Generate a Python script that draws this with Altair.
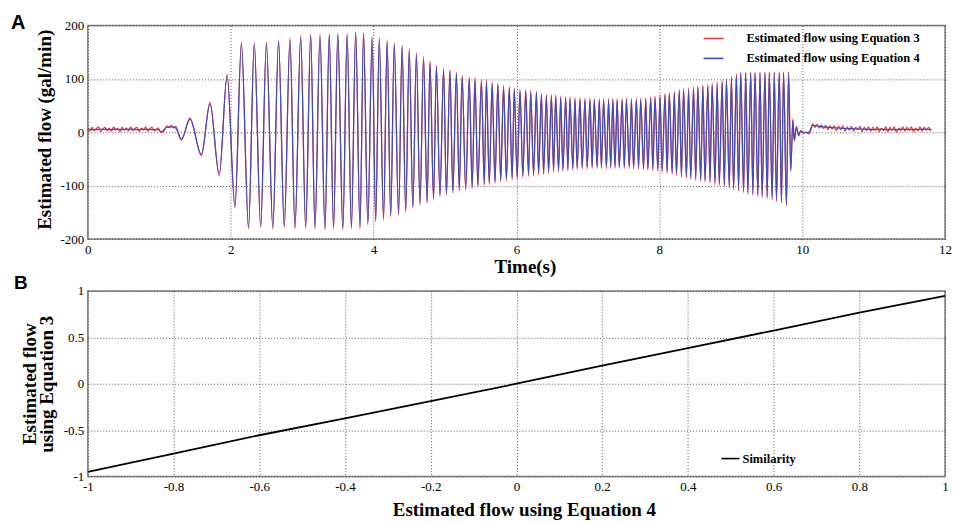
import altair as alt
import pandas as pd

SER3 = "Estimated flow using Equation 3"
SER4 = "Estimated flow using Equation 4"
RED = "#f23a3a"
BLUE = "#3b4cbf"
SERIF = "Liberation Serif"

# ---------------- Panel A: estimated flow vs time ----------------
# Equation 4 (blue) - quiet start
t4_pre = [0.00, 0.10, 0.20, 0.30, 0.40, 0.50, 0.60, 0.70, 0.80, 0.90, 0.98, 1.03, 1.10, 1.18, 1.23]
v4_pre = [6, 5, 6, 5, 6, 5, 6, 5, 6, 5, 5, 1, 9, 10, 8]

# Oscillation extrema (times shared by both equations)
t_osc = [1.31, 1.43, 1.59, 1.71, 1.84, 1.95, 2.06, 2.15, 2.25, 2.33, 2.42, 2.50, 2.59, 2.67, 2.75, 2.83,
         2.90, 2.98, 3.05, 3.12, 3.18, 3.25, 3.32, 3.38, 3.44, 3.50, 3.57, 3.63, 3.69, 3.75, 3.81, 3.86,
         3.92, 3.98, 4.03, 4.08, 4.14, 4.19, 4.24, 4.29, 4.35, 4.40, 4.45, 4.50, 4.55, 4.60, 4.65, 4.70,
         4.75, 4.79, 4.84, 4.88, 4.93, 4.98, 5.02, 5.07, 5.11, 5.16, 5.20, 5.24, 5.29, 5.34, 5.38, 5.42,
         5.46, 5.51, 5.55, 5.58, 5.62, 5.66, 5.70, 5.74, 5.78, 5.82, 5.86, 5.90, 5.94, 5.97, 6.01, 6.05,
         6.09, 6.13, 6.17, 6.20, 6.24, 6.28, 6.31, 6.35, 6.38, 6.42, 6.45, 6.49, 6.52, 6.55, 6.59, 6.62,
         6.65, 6.69, 6.72, 6.75, 6.79, 6.82, 6.85, 6.89, 6.92, 6.96, 6.99, 7.03, 7.06, 7.09, 7.13, 7.16,
         7.19, 7.22, 7.26, 7.29, 7.32, 7.35, 7.38,
         7.41, 7.44, 7.48, 7.51, 7.54, 7.58, 7.61, 7.64, 7.68, 7.71, 7.74, 7.78, 7.81, 7.84, 7.88, 7.91,
         7.94, 7.98, 8.01, 8.04, 8.08, 8.11, 8.14, 8.18, 8.21, 8.24, 8.28, 8.31, 8.34, 8.38, 8.41, 8.44,
         8.48, 8.51, 8.54, 8.58, 8.61, 8.64, 8.68, 8.71, 8.74, 8.78, 8.81, 8.84, 8.88, 8.91, 8.94, 8.98,
         9.01, 9.04, 9.08, 9.11, 9.14, 9.18, 9.21, 9.24, 9.28, 9.31, 9.34, 9.38, 9.41, 9.44, 9.48, 9.51,
         9.54, 9.58, 9.61, 9.64, 9.68, 9.71, 9.74, 9.78, 9.81]

v4_osc = [-13, 24, -41, 53, -78, 105, -138, 165, -178, 165, -175, 165, -178, 170, -176, 173,
          -178, 178, -177, 181, -178, 180, -180, 182, -178, 183, -180, 182, -178, 186, -178, 185,
          -170, 176, -165, 174, -161, 170, -156, 164, -152, 160, -146, 153, -139, 145, -133, 138,
          -129, 130, -123, 122, -117, 116, -114, 114, -110, 109, -106, 103, -105, 100, -102, 98,
          -99, 95, -96, 94, -94, 90, -92, 88, -89, 84, -87, 82, -85, 79, -83, 77,
          -81, 76, -79, 75, -78, 73, -76, 69, -75, 67, -73, 67, -71, 66, -70, 64,
          -69, 63, -68, 62, -67, 61, -66, 61, -65, 60, -65, 60, -64, 59, -64, 59,
          -64, 59, -64, 59, -64, 59, -64,
          59, -64, 59, -64, 60, -64, 59, -65, 60, -65, 60, -66, 61, -67, 63, -68,
          64, -69, 66, -71, 69, -73, 71, -75, 73, -77, 76, -80, 78, -82, 79, -84,
          81, -86, 83, -88, 85, -89, 86, -91, 88, -94, 90, -96, 93, -98, 96, -101,
          101, -104, 106, -106, 111, -109, 111, -112, 111, -114, 111, -116, 111, -118, 111, -120,
          111, -122, 111, -126, 111, -129, 111, -135, 111]

v3_osc = [-15, 27, -44, 56, -82, 109, -142, 168, -181, 168, -179, 169, -181, 173, -179, 176,
          -181, 181, -180, 184, -181, 183, -183, 185, -181, 186, -183, 185, -181, 188, -181, 187,
          -174, 179, -168, 177, -165, 173, -159, 168, -156, 163, -150, 157, -143, 149, -137, 142,
          -133, 134, -127, 126, -121, 120, -118, 118, -114, 113, -110, 107, -109, 104, -106, 102,
          -103, 99, -100, 98, -98, 94, -96, 92, -93, 88, -91, 86, -89, 83, -87, 81,
          -85, 80, -83, 79, -82, 77, -80, 73, -79, 71, -77, 71, -75, 70, -74, 68,
          -73, 67, -72, 66, -71, 65, -70, 65, -69, 64, -69, 64, -68, 63, -68, 63,
          -68, 63, -68, 63, -68, 63, -68,
          63, -68, 63, -68, 64, -68, 63, -69, 64, -69, 64, -70, 65, -71, 67, -72,
          68, -73, 70, -75, 73, -77, 75, -79, 77, -81, 80, -84, 82, -86, 83, -88,
          85, -90, 87, -92, 89, -93, 90, -95, 92, -98, 94, -100, 97, -102, 100, -105,
          105, -108, 110, -110, 113, -113, 113, -116, 113, -118, 113, -120, 113, -122, 113, -124,
          113, -126, 113, -130, 113, -133, 113, -138, 113]

# Equation 4 (blue) - decay and quiet end
t4_post = [9.84, 9.87, 9.89, 9.92, 9.95, 9.98, 10.02, 10.08, 10.11, 10.14, 10.20, 10.30, 10.40,
           10.50, 10.60, 10.70, 10.80, 10.90, 11.00, 11.10, 11.20, 11.30, 11.40, 11.50, 11.60,
           11.70, 11.81]
v4_post = [-70, 22, -14, 9, -5, 2, 0, -1, 3, 13, 12, 10, 9, 8, 7, 7, 6, 6, 5, 6, 5, 5, 6, 5, 5, 6, 5]

# Equation 3 (red) - noisy quiet start
t3_pre = [0.00, 0.03, 0.06, 0.09, 0.12, 0.15, 0.18, 0.21, 0.24, 0.27, 0.30, 0.33, 0.36, 0.39, 0.42,
          0.45, 0.48, 0.51, 0.54, 0.57, 0.60, 0.63, 0.66, 0.69, 0.72, 0.75, 0.78, 0.81, 0.84, 0.87,
          0.90, 0.93, 0.96, 0.99, 1.02, 1.05, 1.08, 1.11, 1.14, 1.17, 1.20, 1.23, 1.26]
v3_pre = [8, 2, 9, 3, 7, 10, 1, 6, 9, 3, 8, 2, 10, 4, 7, 1, 9, 5, 8, 2, 10, 3, 7, 9, 1,
          8, 4, 10, 2, 7, 9, 3, 6, 8, 0, 0, 6, 12, 9, 13, 8, 11, 2]

# Equation 3 (red) - decay and noisy quiet end
t3_post = [9.84, 9.87, 9.89, 9.92, 9.95, 9.98, 10.02, 10.06, 10.09, 10.12, 10.15, 10.18, 10.21,
           10.24, 10.27, 10.30, 10.33, 10.36, 10.39, 10.42, 10.45, 10.48, 10.51, 10.54, 10.57,
           10.60, 10.63, 10.66, 10.69, 10.72, 10.75, 10.78, 10.81, 10.84, 10.87, 10.90, 10.93,
           10.96, 10.99, 11.02, 11.05, 11.08, 11.11, 11.14, 11.17, 11.20, 11.23, 11.26, 11.29,
           11.32, 11.35, 11.38, 11.41, 11.44, 11.47, 11.50, 11.53, 11.56, 11.59, 11.62, 11.65,
           11.68, 11.71, 11.74, 11.77, 11.80]
v3_post = [-74, 25, -17, 11, -7, 3, -2, 1, -3, 3, 16, 9, 15, 8, 14, 7, 13, 5, 12, 6, 12, 3, 11,
           5, 12, 2, 10, 4, 11, 2, 9, 5, 11, 1, 9, 3, 10, 2, 9, 4, 10, 1, 8, 3, 10, 1, 9, 4,
           10, 0, 8, 3, 10, 2, 9, 4, 10, 1, 8, 3, 10, 2, 9, 4, 9, 3]

# ---------------- Panel B: similarity ----------------
sim_x = [-1.0, -0.8, -0.6, -0.4, -0.2, 0.0, 0.2, 0.4, 0.6, 0.8, 1.0]
sim_y = [-0.95, -0.753, -0.555, -0.372, -0.188, 0.0, 0.195, 0.385, 0.573, 0.767, 0.948]

t4_all = t4_pre + t_osc + t4_post
t3_all = t3_pre + t_osc + t3_post
df4 = pd.DataFrame({"t": t4_all, "v": v4_pre + v4_osc + v4_post, "s": [SER4] * len(t4_all)})
df3 = pd.DataFrame({"t": t3_all, "v": v3_pre + v3_osc + v3_post, "s": [SER3] * len(t3_all)})
df_sim = pd.DataFrame({"x": sim_x, "y": sim_y, "s": ["Similarity"] * len(sim_x)})

LBL = "replace(format(datum.value, '~g'), '\u2212', '-')"

axis_common = dict(
    labelFont=SERIF, labelFontSize=13, labelColor="black", labelPadding=4, labelFlush=False,
    labelExpr=LBL,
    titleFont=SERIF, titleFontSize=19, titleFontWeight="bold", titleColor="black",
    grid=True, gridDash=[1, 2], gridColor="#333333", gridWidth=0.8,
    domain=False, ticks=False,
)

xA = alt.X("t:Q", scale=alt.Scale(domain=[0, 12], nice=False),
           axis=alt.Axis(values=[0, 2, 4, 6, 8, 10, 12], title="Time(s)",
                         titleX=438, titleY=34, titleBaseline="alphabetic", **axis_common))
yA = alt.Y("v:Q", scale=alt.Scale(domain=[-200, 200], nice=False),
           axis=alt.Axis(values=[-200, -100, 0, 100, 200], title="Estimated flow (gal/min)",
                         titleX=-37, titleY=104, titleBaseline="alphabetic", **axis_common))

colA = alt.Scale(domain=[SER3, SER4], range=[RED, BLUE])
legA = alt.Legend(title=None, orient="none", legendX=616, legendY=2, symbolType="stroke",
                  symbolSize=400, symbolStrokeWidth=1.6, labelFont=SERIF, labelFontSize=12.5,
                  labelFontWeight="bold", labelColor="black", labelOffset=22, rowPadding=2,
                  padding=0, labelLimit=400)

red = alt.Chart(df3).mark_line(strokeWidth=1.2, clip=True, interpolate="monotone").encode(
    x=xA, y=yA, color=alt.Color("s:N", scale=colA, legend=legA))
blue = alt.Chart(df4).mark_line(strokeWidth=1.2, clip=True, interpolate="monotone").encode(
    x=xA, y=yA, color=alt.Color("s:N", scale=colA, legend=legA))

letterA = alt.Chart(pd.DataFrame({"lab": ["A"]})).mark_text(
    font="Liberation Sans", fontSize=20, fontWeight="bold", align="left", baseline="alphabetic"
).encode(text="lab:N", x=alt.value(-77), y=alt.value(4))
letterB = alt.Chart(pd.DataFrame({"lab": ["B"]})).mark_text(
    font="Liberation Sans", fontSize=19, fontWeight="bold", align="left", baseline="alphabetic"
).encode(text="lab:N", x=alt.value(-74), y=alt.value(264))

top = alt.layer(red, blue, letterA, letterB).properties(width=859, height=214)

xB = alt.X("x:Q", scale=alt.Scale(domain=[-1, 1], nice=False),
           axis=alt.Axis(values=[-1, -0.8, -0.6, -0.4, -0.2, 0, 0.2, 0.4, 0.6, 0.8, 1],
                         title="Estimated flow using Equation 4", titleX=437, titleY=39,
                         titleBaseline="alphabetic", **axis_common))
yB = alt.Y("y:Q", scale=alt.Scale(domain=[-1, 1], nice=False),
           axis=alt.Axis(values=[-1, -0.5, 0, 0.5, 1], title=["Estimated flow", "using Equation 3"],
                         titleX=-52, titleY=93, titleBaseline="alphabetic", titleLineHeight=17,
                         **axis_common))
legB = alt.Legend(title=None, orient="none", legendX=634, legendY=158, symbolType="stroke",
                  symbolSize=324, symbolStrokeWidth=1.6, labelFont=SERIF, labelFontSize=12.5,
                  labelFontWeight="bold", labelColor="black", labelOffset=2, padding=0)
bottom = alt.Chart(df_sim).mark_line(strokeWidth=1.8).encode(
    x=xB, y=yB,
    color=alt.Color("s:N", scale=alt.Scale(domain=["Similarity"], range=["black"]), legend=legB),
).properties(width=859, height=186)

chart = alt.vconcat(top, bottom, spacing=52, bounds="flush").resolve_scale(
    color="independent"
).properties(
    padding={"left": 10, "top": 12, "right": 0, "bottom": 0},
    background="white",
).configure_view(stroke="#808080", strokeWidth=1.5)

chart.save("out.html", embed_options={"renderer": "svg", "actions": False})
